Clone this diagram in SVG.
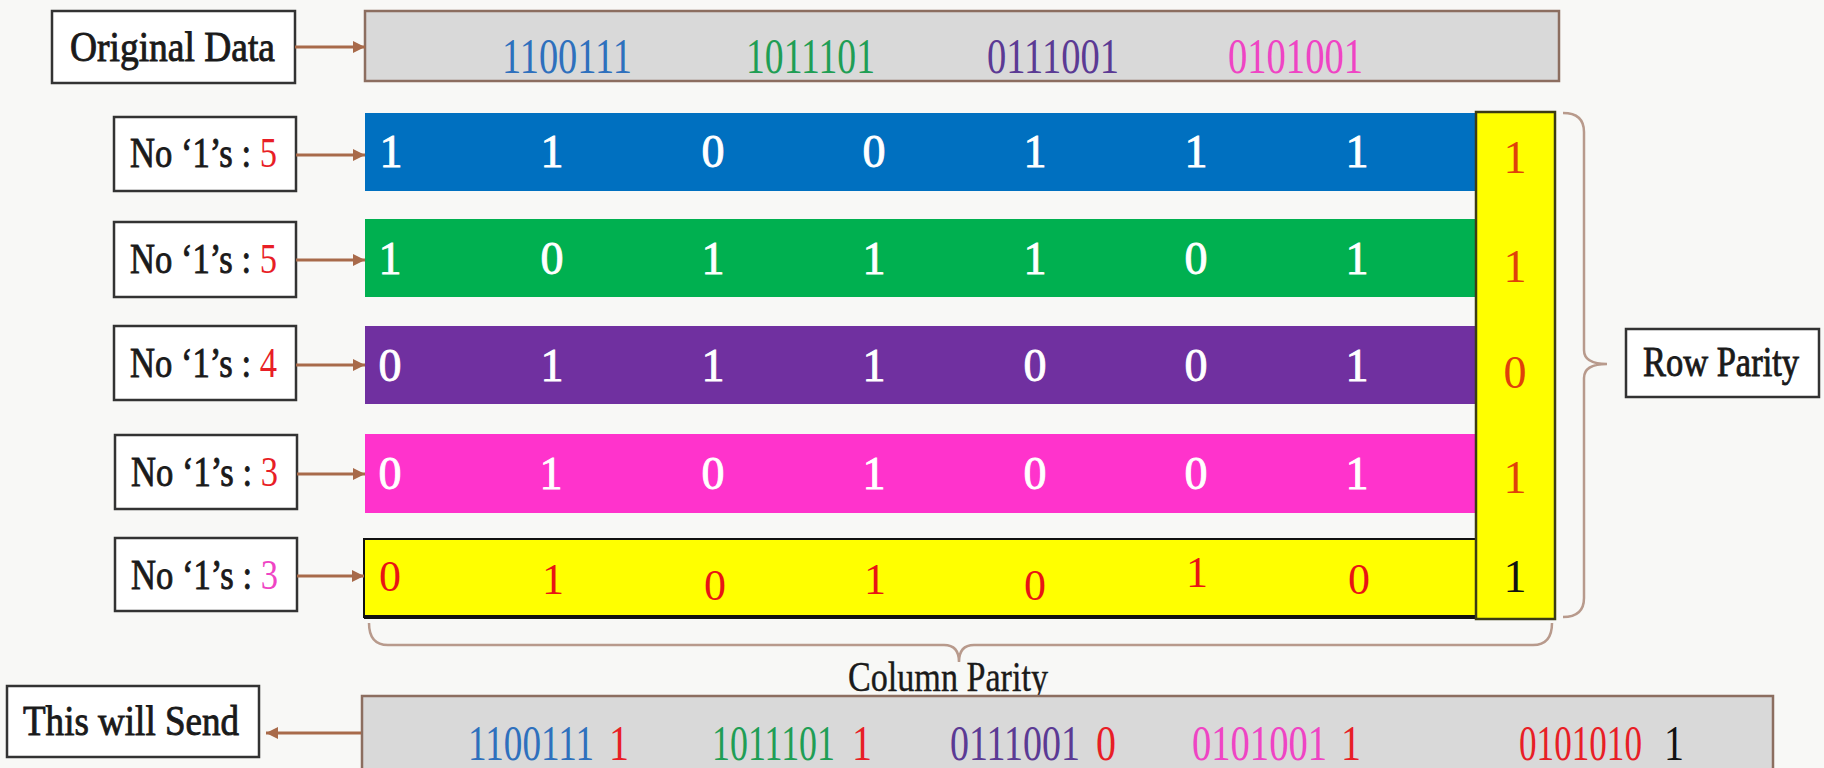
<svg xmlns="http://www.w3.org/2000/svg" width="1824" height="768" viewBox="0 0 1824 768">
<style>
  .box{fill:#ffffff;stroke:#333333;stroke-width:2.5}
  .gray{fill:#d9d9d9;stroke:#8c6e60;stroke-width:2.5}
  .lbl{font-family:"Liberation Serif",serif;font-size:42px;fill:#1a1a1a;stroke:#1a1a1a;stroke-width:0.9}
  .lbl tspan{stroke:none}
  .num{font-family:"Liberation Serif",serif;font-size:50px}
  .bit{font-family:"Liberation Serif",serif;font-size:46px;fill:#ffffff;stroke:#ffffff;stroke-width:0.9;text-anchor:middle}
  .ybit{font-family:"Liberation Serif",serif;font-size:44px;fill:#e81414;text-anchor:middle}
  .pbit{font-family:"Liberation Serif",serif;font-size:46px;fill:#e0400a;text-anchor:middle}
  .conn{stroke:#a86a4a;stroke-width:3;fill:none}
  .brace{stroke:#b89a8c;stroke-width:2.5;fill:none}
  .blue{fill:#2e70bd}.green{fill:#1f9e55}.purple{fill:#5b3a94}.pink{fill:#ef44c4}.red{fill:#e81e26}.blk{fill:#111111}
</style>
<defs>
  <marker id="ah" markerUnits="userSpaceOnUse" markerWidth="14" markerHeight="14" refX="12" refY="7" orient="auto">
    <path d="M0,1 L12,7 L0,13 Z" fill="#a86a4a"/>
  </marker>
</defs>
<rect x="0" y="0" width="1824" height="768" fill="#f8f8f6"/>

<g id="original-data">
  <rect class="box" x="52" y="11" width="243" height="72"/>
  <text class="lbl" x="70" y="61" textLength="205" lengthAdjust="spacingAndGlyphs">Original Data</text>
</g>

<g id="original-bits">
  <rect class="gray" x="365" y="11" width="1194" height="70"/>
  <text class="num blue" x="502" y="73" textLength="130" lengthAdjust="spacingAndGlyphs">1100111</text>
  <text class="num green" x="746" y="73" textLength="129" lengthAdjust="spacingAndGlyphs">1011101</text>
  <text class="num purple" x="987" y="73" textLength="132" lengthAdjust="spacingAndGlyphs">0111001</text>
  <text class="num pink" x="1228" y="73" textLength="135" lengthAdjust="spacingAndGlyphs">0101001</text>
</g>

<g id="count-1">
  <rect class="box" x="114" y="117" width="182" height="74"/>
  <text class="lbl" x="130" y="167" textLength="147" lengthAdjust="spacingAndGlyphs">No ‘1’s : <tspan class="red">5</tspan></text>
</g>
<g id="count-2">
  <rect class="box" x="114" y="222" width="182" height="75"/>
  <text class="lbl" x="130" y="273" textLength="147" lengthAdjust="spacingAndGlyphs">No ‘1’s : <tspan class="red">5</tspan></text>
</g>
<g id="count-3">
  <rect class="box" x="114" y="326" width="182" height="74"/>
  <text class="lbl" x="130" y="377" textLength="147" lengthAdjust="spacingAndGlyphs">No ‘1’s : <tspan class="red">4</tspan></text>
</g>
<g id="count-4">
  <rect class="box" x="115" y="435" width="182" height="74"/>
  <text class="lbl" x="131" y="486" textLength="147" lengthAdjust="spacingAndGlyphs">No ‘1’s : <tspan class="red">3</tspan></text>
</g>
<g id="count-5">
  <rect class="box" x="115" y="538" width="182" height="73"/>
  <text class="lbl" x="131" y="589" textLength="147" lengthAdjust="spacingAndGlyphs">No ‘1’s : <tspan class="pink">3</tspan></text>
</g>

<g id="row-1">
  <rect x="365" y="113" width="1111" height="78" fill="#0070c0"/>
  <text class="bit" x="391" y="167">1</text><text class="bit" x="552" y="167">1</text><text class="bit" x="713" y="167">0</text><text class="bit" x="874" y="167">0</text><text class="bit" x="1035" y="167">1</text><text class="bit" x="1196" y="167">1</text><text class="bit" x="1357" y="167">1</text>
</g>
<g id="row-2">
  <rect x="365" y="219" width="1111" height="78" fill="#00b050"/>
  <text class="bit" x="390" y="274">1</text><text class="bit" x="552" y="274">0</text><text class="bit" x="713" y="274">1</text><text class="bit" x="874" y="274">1</text><text class="bit" x="1035" y="274">1</text><text class="bit" x="1196" y="274">0</text><text class="bit" x="1357" y="274">1</text>
</g>
<g id="row-3">
  <rect x="365" y="326" width="1111" height="78" fill="#7030a0"/>
  <text class="bit" x="390" y="381">0</text><text class="bit" x="552" y="381">1</text><text class="bit" x="713" y="381">1</text><text class="bit" x="874" y="381">1</text><text class="bit" x="1035" y="381">0</text><text class="bit" x="1196" y="381">0</text><text class="bit" x="1357" y="381">1</text>
</g>
<g id="row-4">
  <rect x="365" y="434" width="1111" height="79" fill="#ff33cc"/>
  <text class="bit" x="390" y="489">0</text><text class="bit" x="551" y="489">1</text><text class="bit" x="713" y="489">0</text><text class="bit" x="874" y="489">1</text><text class="bit" x="1035" y="489">0</text><text class="bit" x="1196" y="489">0</text><text class="bit" x="1357" y="489">1</text>
</g>
<g id="column-parity-row">
  <rect x="364" y="539" width="1112" height="78" fill="#ffff00" stroke="#111111" stroke-width="2"/>
  <line x1="364" y1="617" x2="1476" y2="617" stroke="#111111" stroke-width="4"/>
  <text class="ybit" x="390" y="591">0</text><text class="ybit" x="553" y="594">1</text><text class="ybit" x="715" y="600">0</text><text class="ybit" x="875" y="594">1</text><text class="ybit" x="1035" y="600">0</text><text class="ybit" x="1197" y="587">1</text><text class="ybit" x="1359" y="594">0</text>
</g>

<g id="row-parity-column">
  <rect x="1476" y="112" width="79" height="507" fill="#ffff00" stroke="#3c3c14" stroke-width="2.5"/>
  <text class="pbit" x="1515" y="173">1</text>
  <text class="pbit" x="1515" y="282">1</text>
  <text class="pbit" x="1515" y="388">0</text>
  <text class="pbit" x="1515" y="493">1</text>
  <text class="pbit" x="1515" y="592" style="fill:#111111">1</text>
</g>

<g id="row-parity-label">
  <rect class="box" x="1626" y="329" width="193" height="68"/>
  <text class="lbl" x="1643" y="376" textLength="156" lengthAdjust="spacingAndGlyphs">Row Parity</text>
</g>

<g id="column-parity-label">
  <text class="lbl" x="848" y="691" textLength="200" lengthAdjust="spacingAndGlyphs" style="stroke-width:0.4">Column Parity</text>
</g>

<g id="send-bits">
  <rect class="gray" x="362" y="696" width="1411" height="80"/>
  <text class="num blue" x="468" y="760" textLength="126" lengthAdjust="spacingAndGlyphs">1100111</text>
  <text class="num red" x="609" y="760" textLength="20" lengthAdjust="spacingAndGlyphs">1</text>
  <text class="num green" x="712" y="760" textLength="123" lengthAdjust="spacingAndGlyphs">1011101</text>
  <text class="num red" x="852" y="760" textLength="20" lengthAdjust="spacingAndGlyphs">1</text>
  <text class="num purple" x="950" y="760" textLength="130" lengthAdjust="spacingAndGlyphs">0111001</text>
  <text class="num red" x="1096" y="760" textLength="20" lengthAdjust="spacingAndGlyphs">0</text>
  <text class="num pink" x="1192" y="760" textLength="135" lengthAdjust="spacingAndGlyphs">0101001</text>
  <text class="num red" x="1341" y="760" textLength="20" lengthAdjust="spacingAndGlyphs">1</text>
  <text class="num red" x="1519" y="760" textLength="123" lengthAdjust="spacingAndGlyphs">0101010</text>
  <text class="num blk" x="1664" y="760" textLength="20" lengthAdjust="spacingAndGlyphs">1</text>
</g>

<g id="this-will-send">
  <rect class="box" x="7" y="686" width="252" height="71"/>
  <text class="lbl" x="23" y="735" textLength="216" lengthAdjust="spacingAndGlyphs">This will Send</text>
</g>

<g id="connectors">
  <line class="conn" x1="295" y1="47" x2="365" y2="47" marker-end="url(#ah)"/>
  <line class="conn" x1="296" y1="155" x2="365" y2="155" marker-end="url(#ah)"/>
  <line class="conn" x1="296" y1="260" x2="365" y2="260" marker-end="url(#ah)"/>
  <line class="conn" x1="296" y1="365" x2="365" y2="365" marker-end="url(#ah)"/>
  <line class="conn" x1="297" y1="474" x2="365" y2="474" marker-end="url(#ah)"/>
  <line class="conn" x1="297" y1="576" x2="364" y2="576" marker-end="url(#ah)"/>
  <line class="conn" x1="361" y1="733" x2="266" y2="733" marker-end="url(#ah)"/>
  <path class="brace" d="M1563,113 Q1584,113 1584,132 L1584,350 Q1584,364 1607,364 Q1584,364 1584,378 L1584,598 Q1584,617 1563,617"/>
  <path class="brace" d="M369,623 Q369,645 388,645 L944,645 Q959,645 959,662 Q959,645 974,645 L1533,645 Q1552,645 1552,623"/>
</g>
</svg>
